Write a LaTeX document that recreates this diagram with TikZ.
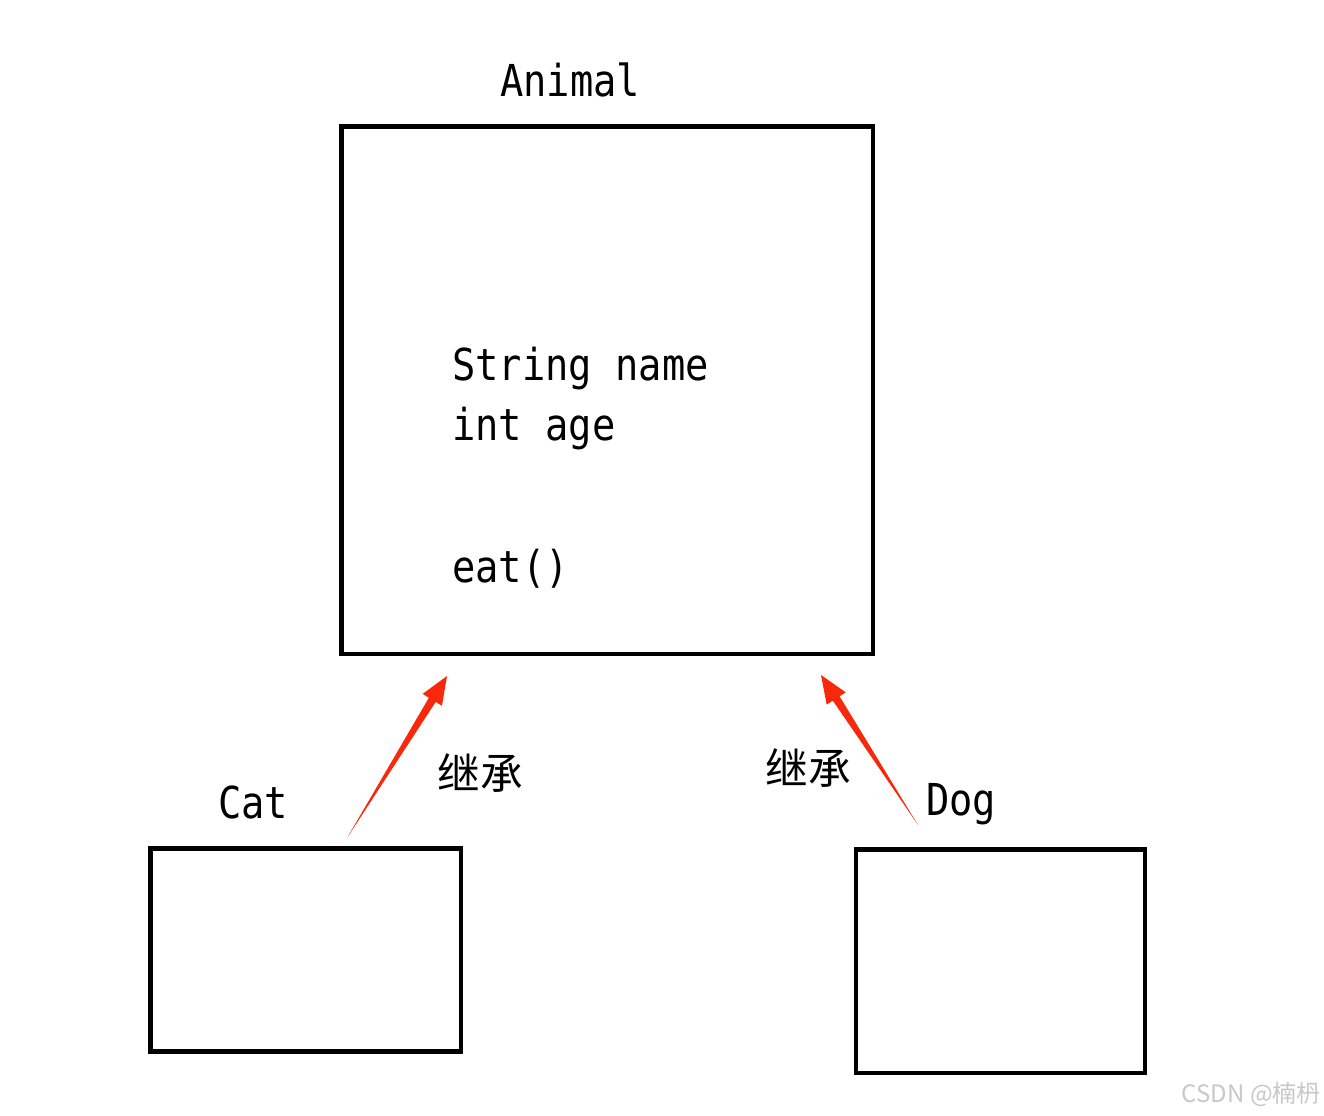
\documentclass[tikz,border=0pt]{standalone}
\usepackage{fontspec}
\usetikzlibrary{calc}
\newfontfamily\monof[FakeStretch=0.88]{DejaVu Sans Mono}
\newfontfamily\cjk{Noto Sans CJK SC}
\definecolor{arrowred}{RGB}{250,40,10}
\definecolor{wmgray}{RGB}{200,200,200}
\tikzset{
  classbox/.style={draw=black,line width=3.6pt,fill=none,inner sep=0pt,outer sep=0pt,anchor=north west},
  lbl/.style={font=\monof\fontsize{33pt}{36pt}\selectfont,inner sep=0pt,anchor=base west},
  cn/.style={font=\cjk\fontsize{32pt}{36pt}\selectfont,inner sep=0pt,anchor=center},
  inherit/.style={fill=arrowred,draw=none}
}
\begin{document}
\begin{tikzpicture}[x=0.75pt,y=-0.75pt]
\useasboundingbox[fill=white] (0,0) rectangle (1324,1116);
% boxes
\node[classbox,minimum width=531.5*0.75pt,minimum height=527.5*0.75pt] (animal) at (341.5,126.5) {};
\node[classbox,minimum width=310.5*0.75pt,minimum height=203*0.75pt] (cat) at (150.5,848.5) {};
\node[classbox,minimum width=289*0.75pt,minimum height=223.5*0.75pt] (dog) at (856,849.5) {};
% labels
\node[lbl] (animalname) at (500,97) {Animal};
\node[lbl] (f1) at (452,380) {String name};
\node[lbl] (f2) at (452,440) {int age};
\node[lbl] (m1) at (452,582) {eat()};
\node[lbl] (catname) at (218,818) {Cat};
\node[lbl] (dogname) at (926,815) {Dog};
\node[cn] (inhL) at (480,773) {继承};
\node[cn] (inhR) at (808,768) {继承};
% arrows (tapered)
\coordinate (ct) at (347,838);
\coordinate (ch) at (447,676);
\coordinate (cb) at ($(ch)!21pt!(ct)$);
\fill[inherit] (ct) -- ($(cb)!3pt!90:(ch)$) -- ($(cb)!8.5pt!90:(ch)$) -- (ch)
  -- ($(cb)!8.5pt!-90:(ch)$) -- ($(cb)!3pt!-90:(ch)$) -- cycle;
\coordinate (dt) at (918,825);
\coordinate (dh) at (821,675);
\coordinate (db) at ($(dh)!21pt!(dt)$);
\fill[inherit] (dt) -- ($(db)!3pt!90:(dh)$) -- ($(db)!8.5pt!90:(dh)$) -- (dh)
  -- ($(db)!8.5pt!-90:(dh)$) -- ($(db)!3pt!-90:(dh)$) -- cycle;
% watermark
\node[font=\cjk\fontsize{18pt}{20pt}\selectfont,text=wmgray,anchor=east,inner sep=0pt] (wm) at (1321,1094) {CSDN @楠枬};
\end{tikzpicture}
\end{document}
